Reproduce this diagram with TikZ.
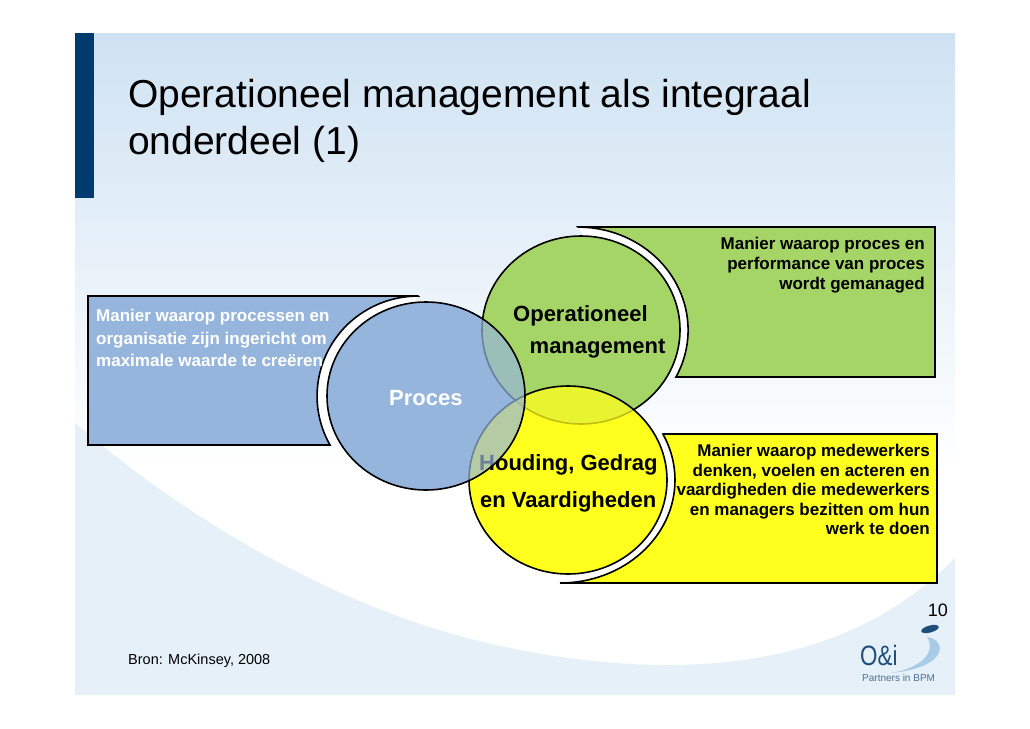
\documentclass[tikz,border=0pt]{standalone}
\usepackage{fontspec}
\setmainfont{Liberation Sans}
\usetikzlibrary{shapes.geometric}
\definecolor{barblue}{HTML}{003B6F}
\definecolor{skyblue}{HTML}{CFE2F3}
\definecolor{paleblue}{HTML}{E5F0F9}
\definecolor{boxgreen}{HTML}{A5D566}
\definecolor{boxblue}{HTML}{96B5DC}
\definecolor{boxyellow}{HTML}{FFFF1E}
\definecolor{logoblue}{HTML}{1F4E79}
\definecolor{logosoft}{HTML}{A8CBE6}
\tikzset{
	panel/.style = { draw = black, line width = 1.6pt },
	gap/.style = { fill = white },
	ring/.style = { draw = black, line width = 1.6pt, shape = ellipse, inner sep = 0pt, outer sep = 0pt, minimum width = 198pt, minimum height = 188pt },
	base/.style = { shape = ellipse, inner sep = 0pt, outer sep = 0pt, minimum width = 198pt, minimum height = 188pt },
	note/.style = { font = \fontsize{17}{#1}\selectfont\bfseries, inner sep = 0pt },
	note/.default = 20,
	tag/.style = { font = \fontsize{22}{26}\selectfont\bfseries, inner sep = 0pt, anchor = base west }
}

\begin{document}
\begin{tikzpicture}[x = 1pt, y = 1pt, yscale = -1]
	\useasboundingbox (0, 0) rectangle (1030, 728);
	\fill [white] (0, 0) rectangle (1030, 728);

	% slide background
	\shade [top color = skyblue, bottom color = white] (75, 33) rectangle (955, 470);
	\fill [white] (75, 470) rectangle (955, 695);
	\fill [paleblue] (75, 423) .. controls (170, 505) and (285, 575) .. (400, 617) .. controls (490, 650) and (590, 665) .. (667, 665) .. controls (780, 665) and (880, 635) .. (955, 558) -- (955, 695) -- (75, 695) -- cycle;
	\fill [barblue] (75, 33) rectangle (94, 198);

	% panels behind the circles
	\fill [gap] (578, 227) arc [start angle = -90, end angle = 27.1, x radius = 110, y radius = 103] -- cycle;
	\fill [gap] (418, 296) arc [start angle = 270, end angle = 150.7, x radius = 101, y radius = 100] -- cycle;
	\fill [gap] (664, 434) arc [start angle = -26.5, end angle = 90, x radius = 115, y radius = 103] -- cycle;
	\draw [panel, fill = boxgreen] (578, 227) -- (935, 227) -- (935, 377) -- (676, 377) arc [start angle = 27.1, end angle = -90, x radius = 110, y radius = 103] -- cycle;
	\draw [panel, fill = boxblue] (418, 296) -- (88, 296) -- (88, 445) -- (330, 445) arc [start angle = 150.7, end angle = 270, x radius = 101, y radius = 100] -- cycle;
	\draw [panel, fill = boxyellow] (664, 434) -- (937, 434) -- (937, 583) -- (560, 583) arc [start angle = 90, end angle = -26.5, x radius = 115, y radius = 103] -- cycle;

	% circles, solid colour first so the see-through ones keep it
	\node [base, fill = boxblue] (procesbase) at (426, 396) {};
	\node [base, fill = boxyellow] (houdingbase) at (568, 480) {};
	\node [ring, fill = boxgreen] (opmgmt) at (581, 330) {};
	\node [ring, fill = boxyellow, fill opacity = 0.75] (houding) at (568, 480) {};

	\node [tag] (opmgmt1) at (513, 321) {Operationeel};
	\node [tag] (opmgmt2) at (529.5, 353) {management};
	\node [tag] (houding1) at (479, 470) {Houding, Gedrag};
	\node [tag] (houding2) at (480, 507) {en Vaardigheden};

	\node [ring, fill = boxblue, fill opacity = 0.7] (proces) at (426, 396) {};
	\node [tag, white] (procestag) at (389, 405) {Proces};

	% texts
	\node [anchor = north west, align = left, inner sep = 0pt, font = \fontsize{39}{47}\selectfont] (title) at (128, 79) {Operationeel management als integraal\\onderdeel (1)};
	\node [note, anchor = north east, align = right] (opnote) at (925, 236.5) {Manier waarop proces en\\performance van proces\\wordt gemanaged};
	\node [note = 22.5, white, anchor = north west, align = left] (procesnote) at (96, 309) {Manier waarop processen en\\organisatie zijn ingericht om\\maximale waarde te creëren};
	\node [note = 19.6, anchor = north east, align = right] (houdingnote) at (930, 444) {Manier waarop medewerkers\\denken, voelen en acteren en\\vaardigheden die medewerkers\\en managers bezitten om hun\\werk te doen};
	\node [anchor = east, inner sep = 0pt, font = \fontsize{18}{20}\selectfont] (pagenr) at (948, 610) {10};
	\node [anchor = west, inner sep = 0pt, font = \fontsize{14.5}{17}\selectfont] (source) at (128, 661) {Bron: McKinsey, 2008};

	% logo
	\fill [logoblue, rotate around = {-15:(930, 629)}] (930, 629) ellipse [x radius = 9, y radius = 3.5];
	\fill [logosoft] (927, 637) .. controls (948, 640) and (948, 668) .. (890, 673) .. controls (915, 670) and (938, 655) .. (927, 637) -- cycle;
	\node [anchor = base west, inner sep = 0pt, logoblue, font = \fontsize{28}{30}\selectfont] (logoname) at (860, 665) {\scalebox{0.8}[1]{O\&i}};
	\node [anchor = west, inner sep = 0pt, logoblue!80, font = \fontsize{10}{12}\selectfont] (logotag) at (862, 678) {Partners in BPM};
\end{tikzpicture}
\end{document}
